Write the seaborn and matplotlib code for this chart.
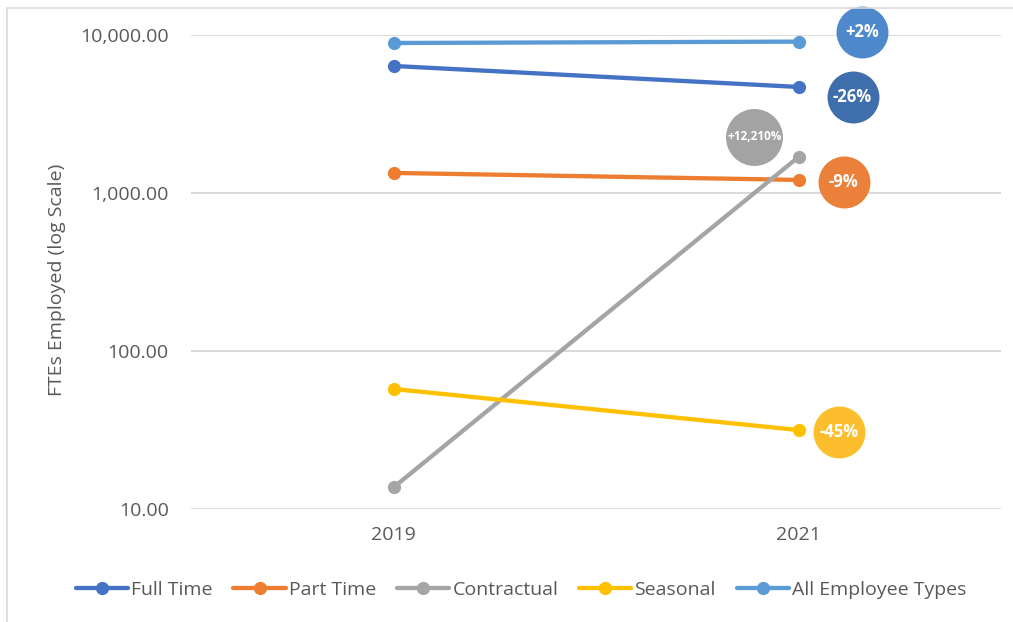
import numpy as np
import pandas as pd
import matplotlib
matplotlib.use("Agg")
import matplotlib.pyplot as plt
from matplotlib.transforms import offset_copy
from matplotlib.ticker import NullLocator, FixedLocator, FixedFormatter
from matplotlib.patches import Rectangle
import seaborn as sns

# ---- data ----
years = ["2019", "2021"]
series_names = ["Full Time", "Part Time", "Contractual", "Seasonal", "All Employee Types"]
full_time = [6370, 4690]
part_time = [1340, 1210]
contractual = [13.7, 1690]
seasonal = [57.5, 31.6]
all_types = [8900, 9080]
change_labels = ["-26%", "-9%", "+12,210%", "-45%", "+2%"]
y_ticks = [10, 100, 1000, 10000]

# ---- style ----
line_colors = ["#4472C4", "#ED7D31", "#A5A5A5", "#FFC000", "#5B9BD5"]
bubble_colors = ["#3F6EAD", "#EB803A", "#A3A3A3", "#FDBE2D", "#4E89CC"]
# bubble centre offsets (points) from the 2021 point, and bubble diameter (points)
bubble_offsets = [(38.9, -7.2), (32.4, -1.4), (-31.7, 14.4), (29.5, -1.4), (46.0, 7.2)]
bubble_sizes = [37.4, 37.4, 41.0, 37.4, 37.4]
bubble_font = [12, 12, 8.5, 12, 12]

sns.set_theme(style="white")
plt.rcParams["font.family"] = ["Open Sans", "DejaVu Sans"]

values = [full_time, part_time, contractual, seasonal, all_types]
df = pd.DataFrame(
    [(y, v, n) for n, vals in zip(series_names, values) for y, v in zip(years, vals)],
    columns=["Year", "FTEs", "Type"],
)

W, H = 1013, 622
fig = plt.figure(figsize=(W / 100, H / 100), dpi=100)
fig.patch.set_facecolor("white")
ax = fig.add_axes([191 / W, 1 - 509 / H, (1001 - 191) / W, (509 - 35) / H])

sns.lineplot(
    data=df, x="Year", y="FTEs", hue="Type", hue_order=series_names,
    palette=dict(zip(series_names, line_colors)), marker="o", markersize=9.5,
    markeredgewidth=0, linewidth=3.1, ax=ax, sort=False,
)

ax.set_yscale("log")
ax.set_ylim(10, 10000)
ax.set_xlim(-0.5, len(years) - 0.5)
ax.yaxis.set_major_locator(FixedLocator(y_ticks))
ax.yaxis.set_major_formatter(FixedFormatter([f"{t:,.2f}" for t in y_ticks]))
ax.yaxis.set_minor_locator(NullLocator())
ax.grid(axis="y", color="#D9D9D9", linewidth=1.4)
ax.grid(axis="x", visible=False)
ax.set_axisbelow(True)
for s in ax.spines.values():
    s.set_visible(False)
ax.tick_params(axis="y", length=0, labelsize=14, colors="#595959", pad=16)
ax.tick_params(axis="x", length=0, labelsize=14, colors="#595959", pad=12)
ax.set_xlabel("")
ax.set_ylabel("")
fig.text(57 / W, 1 - 280 / H, "FTEs Employed (log Scale)", rotation=90,
         ha="center", va="center", fontsize=14, color="#595959")

# legend
handles, labels = ax.get_legend_handles_labels()
if ax.get_legend() is not None:
    ax.get_legend().remove()
leg = fig.legend(handles, labels, loc="center", bbox_to_anchor=(521 / W, 1 - 590 / H),
                 ncol=5, frameon=False, fontsize=14, handlelength=2.7,
                 handletextpad=0.15, columnspacing=1.07)
for t in leg.get_texts():
    t.set_color("#595959")

# change bubbles at the last year
xi = len(years) - 1
for vals, lab, bc, (dx, dy), sz, fs in zip(values, change_labels, bubble_colors,
                                           bubble_offsets, bubble_sizes, bubble_font):
    tr = offset_copy(ax.transData, fig=fig, x=dx, y=dy, units="points")
    ax.plot([xi], [vals[-1]], "o", ms=sz, color=bc, markeredgewidth=0,
            transform=tr, clip_on=False, zorder=6)
    ax.annotate(lab, xy=(xi, vals[-1]), xytext=(dx, dy), textcoords="offset points",
                ha="center", va="center", color="white", fontweight="bold",
                fontsize=fs, zorder=7, annotation_clip=False)

# outer frame (partially cropped in the reference)
fig.patches.append(Rectangle((7 / W, -0.1), 1.2, 1 - 8 / H + 0.1, transform=fig.transFigure,
                             fill=False, edgecolor="#D9D9D9", linewidth=1.2, zorder=0))

fig.savefig("out.png", dpi=100, facecolor="white")
